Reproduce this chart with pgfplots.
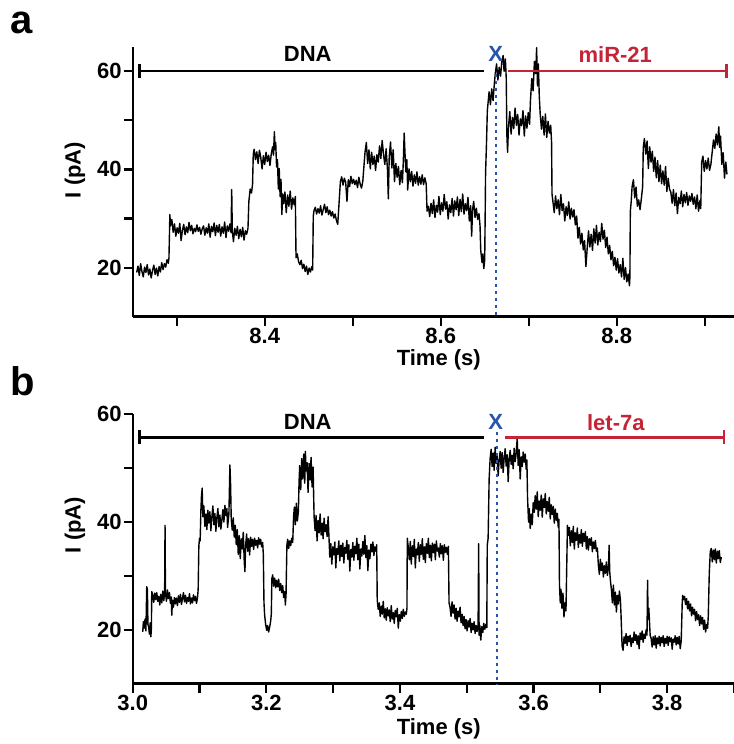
\documentclass[border=0pt]{standalone}
\usepackage{fontspec}
\setmainfont{Liberation Sans}
\usepackage{pgfplots}
\pgfplotsset{compat=1.18}
\usetikzlibrary{arrows.meta}
\definecolor{annred}{RGB}{196,36,54}
\definecolor{annblue}{RGB}{40,84,176}
\newcommand{\bigf}{\fontsize{22bp}{25bp}\selectfont\bfseries}
\pgfplotsset{
  panel/.style={
    scale only axis, width=601.3bp,
    axis x line*=bottom, axis y line*=left,
    axis line style={line width=2.4bp,-},
    every outer x axis line/.append style={-},
    every outer y axis line/.append style={-},
    tick style={line width=2.2bp,black},
    tick align=outside,
    major tick length=9bp,
    tick label style={font=\bigf, inner sep=2bp},
    label style={font=\bigf},
    ytick={20,30,40,50,60},
    yticklabels={\textbf{20},,\textbf{40},,\textbf{60}},
    ymin=10,
    clip=false,
    xlabel={Time (s)}, ylabel={I (pA)},
    ylabel style={anchor=center},
    xlabel style={anchor=center},
  },
  trace/.style={black, line width=1.4bp, line join=round, mark=none},
}
\begin{document}
\begin{tikzpicture}
\useasboundingbox (0,0) rectangle (734bp,744bp);
\node[font=\fontsize{40bp}{44bp}\selectfont\bfseries, anchor=base west, inner sep=0] at (10bp,710.7bp) {a};
\node[font=\fontsize{40bp}{44bp}\selectfont\bfseries, anchor=base west, inner sep=0] at (10bp,348.7bp) {b};
% ---------------- panel a ----------------
\begin{axis}[panel, at={(132.7bp,427.3bp)}, anchor=south west, height=270bp,
  xmin=8.25, xmax=8.9333, ymax=65,
  xtick={8.3,8.4,8.5,8.6,8.7,8.8,8.9},
  xticklabels={,\textbf{8.4},,\textbf{8.6},,\textbf{8.8},},
  xlabel style={at={(axis description cs:0.509,-0.160)}},
  ylabel style={at={(axis description cs:-0.096,0.543)}},
]
\addplot[trace] coordinates {
(8.2545,19.0)(8.2560,20.3)(8.2575,18.4)(8.2590,20.8)(8.2605,19.2)(8.2620,18.1)(8.2635,20.1)(8.2650,19.0)
(8.2665,20.6)(8.2680,18.5)(8.2695,19.7)(8.2710,17.9)(8.2725,19.4)(8.2740,20.5)(8.2755,18.6)(8.2770,19.9)
(8.2785,18.3)(8.2800,20.2)(8.2815,19.1)(8.2830,21.0)(8.2845,19.6)(8.2860,20.8)(8.2875,20.1)(8.2890,21.6)
(8.2905,20.9)(8.2912,22.0)(8.2918,27.0)(8.2922,30.8)
(8.2930,28.5)(8.2945,29.8)(8.2960,27.2)(8.2975,28.9)(8.2990,26.4)(8.3005,28.1)(8.3020,27.0)(8.3035,29.0)
(8.3050,25.5)(8.3065,27.6)(8.3080,28.8)(8.3095,26.7)(8.3110,28.3)(8.3125,27.1)(8.3140,29.2)(8.3155,27.5)
(8.3170,28.6)(8.3185,26.9)(8.3200,28.0)(8.3215,27.3)(8.3230,28.7)(8.3245,27.4)(8.3260,28.2)(8.3275,26.8)
(8.3290,27.9)(8.3305,28.5)(8.3320,26.6)(8.3335,28.1)(8.3350,27.0)(8.3365,28.9)(8.3380,26.2)(8.3395,28.4)
(8.3410,27.3)(8.3425,29.1)(8.3440,26.5)(8.3455,28.6)(8.3470,27.2)(8.3485,28.8)(8.3500,26.4)(8.3515,28.3)
(8.3530,27.0)(8.3545,29.3)(8.3560,26.1)(8.3575,28.5)(8.3590,27.4)(8.3605,28.9)(8.3618,27.1)(8.3625,35.9)
(8.3632,27.5)(8.3645,25.3)(8.3660,28.0)(8.3675,26.6)(8.3690,28.4)(8.3705,25.9)(8.3720,27.8)(8.3735,26.3)
(8.3750,28.2)(8.3765,25.6)(8.3780,27.5)(8.3795,26.8)(8.3810,28.0)
(8.3820,33.5)(8.3835,36.0)(8.3850,35.2)(8.3862,37.0)(8.3870,43.0)
(8.3880,44.1)(8.3895,42.0)(8.3910,43.6)(8.3925,41.2)(8.3940,43.9)(8.3955,42.5)(8.3970,40.1)(8.3985,42.8)
(8.4000,41.0)(8.4015,43.5)(8.4030,41.6)(8.4045,42.9)(8.4060,40.8)(8.4075,43.2)(8.4090,44.6)(8.4100,42.9)
(8.4110,47.7)(8.4118,44.0)(8.4125,45.5)(8.4135,40.5)(8.4145,42.0)(8.4155,36.0)(8.4165,40.2)(8.4175,34.5)
(8.4185,38.0)(8.4195,30.8)(8.4205,35.0)
(8.4215,33.0)(8.4230,35.4)(8.4245,31.2)(8.4260,34.8)(8.4275,32.5)(8.4290,35.6)(8.4305,31.9)(8.4320,34.2)
(8.4335,32.8)(8.4348,34.5)(8.4356,22.0)(8.4370,22.8)
(8.4385,21.2)(8.4400,20.6)(8.4415,21.5)(8.4430,19.8)(8.4445,20.7)(8.4460,19.2)(8.4475,20.3)(8.4490,18.6)
(8.4505,19.9)(8.4520,19.1)(8.4535,20.2)(8.4545,19.5)(8.4552,30.5)(8.4560,31.6)
(8.4575,32.3)(8.4590,30.9)(8.4605,32.0)(8.4620,31.1)(8.4635,32.6)(8.4650,30.7)(8.4665,31.8)(8.4680,32.9)
(8.4695,31.2)(8.4710,32.4)(8.4725,30.8)(8.4740,31.7)(8.4755,30.5)(8.4770,31.4)(8.4785,30.1)(8.4800,30.9)
(8.4815,29.6)(8.4830,28.8)(8.4860,37.5)
(8.4875,38.5)(8.4890,36.8)(8.4905,38.2)(8.4920,37.4)(8.4935,33.5)(8.4950,37.9)(8.4965,36.5)(8.4980,38.6)
(8.4995,37.1)(8.5010,38.0)(8.5025,36.9)(8.5040,37.8)(8.5055,36.3)(8.5070,38.4)(8.5085,37.0)(8.5100,36.2)
(8.5115,37.6)(8.5125,40.0)(8.5140,43.5)
(8.5155,45.5)(8.5170,41.2)(8.5185,44.0)(8.5200,40.1)(8.5215,43.5)(8.5230,41.0)(8.5245,42.7)(8.5260,39.8)
(8.5275,43.0)(8.5290,41.5)(8.5305,44.8)(8.5320,42.2)(8.5335,45.9)(8.5350,43.1)(8.5365,41.0)(8.5380,44.2)
(8.5395,40.0)(8.5405,34.0)(8.5415,42.5)(8.5430,45.6)(8.5445,40.3)(8.5460,44.0)(8.5475,37.5)(8.5490,41.2)
(8.5505,38.4)(8.5520,40.6)(8.5535,36.9)(8.5550,39.8)(8.5565,37.3)(8.5575,41.5)(8.5585,47.4)(8.5595,43.0)
(8.5605,39.5)(8.5615,42.0)(8.5625,35.8)(8.5640,40.1)(8.5655,37.5)(8.5670,39.6)(8.5685,36.6)(8.5700,38.9)
(8.5715,37.2)(8.5730,39.5)(8.5745,36.8)(8.5760,38.5)(8.5775,37.0)(8.5790,38.9)(8.5805,36.9)(8.5820,38.3)
(8.5835,37.1)(8.5845,31.5)
(8.5860,32.5)(8.5875,30.4)(8.5890,33.1)(8.5905,31.0)(8.5920,33.8)(8.5935,30.2)(8.5950,32.7)(8.5965,31.3)
(8.5980,34.5)(8.5995,30.8)(8.6010,33.2)(8.6025,31.5)(8.6040,34.9)(8.6055,31.9)(8.6070,33.4)(8.6085,29.9)
(8.6100,32.8)(8.6115,31.2)(8.6130,34.1)(8.6145,30.5)(8.6160,33.6)(8.6175,31.8)(8.6190,34.4)(8.6205,30.6)
(8.6220,33.9)(8.6235,31.4)(8.6250,35.0)(8.6265,30.9)(8.6280,33.0)(8.6295,31.6)(8.6310,34.3)(8.6325,29.5)
(8.6340,32.6)(8.6352,26.4)(8.6362,31.8)(8.6375,33.5)(8.6390,30.2)(8.6405,32.1)(8.6420,29.8)(8.6435,31.0)
(8.6447,28.5)(8.6455,23.5)(8.6470,21.0)(8.6480,22.8)(8.6490,19.8)(8.6500,21.5)
(8.6505,30.0)(8.6510,39.3)(8.6520,45.0)(8.6530,52.0)(8.6538,53.5)
(8.6550,55.8)(8.6565,53.2)(8.6580,56.4)(8.6595,54.0)(8.6610,57.5)(8.6620,59.5)(8.6635,61.5)(8.6650,58.2)
(8.6665,60.8)(8.6680,59.0)(8.6695,62.0)(8.6710,63.2)(8.6720,60.0)(8.6735,62.5)(8.6745,58.5)
(8.6752,47.0)(8.6760,43.5)(8.6770,48.5)
(8.6785,51.8)(8.6800,47.2)(8.6815,50.6)(8.6830,48.3)(8.6845,52.5)(8.6860,49.0)(8.6875,51.2)(8.6890,47.0)
(8.6905,50.3)(8.6920,48.9)(8.6935,52.0)(8.6950,46.8)(8.6965,50.9)(8.6980,48.4)(8.6995,51.6)(8.7010,49.2)
(8.7020,54.0)(8.7035,58.5)(8.7050,56.0)(8.7065,62.0)(8.7080,59.5)(8.7090,64.8)(8.7100,57.0)(8.7110,61.5)
(8.7120,55.0)
(8.7130,51.5)(8.7145,48.2)(8.7160,50.8)(8.7175,47.0)(8.7190,51.3)(8.7205,46.5)(8.7220,49.8)(8.7235,47.4)
(8.7250,49.0)(8.7260,45.5)(8.7265,35.0)(8.7275,33.5)
(8.7290,31.2)(8.7305,34.6)(8.7320,32.0)(8.7335,33.8)(8.7350,30.8)(8.7365,34.9)(8.7380,31.6)(8.7395,33.0)
(8.7410,29.5)(8.7425,32.4)(8.7440,30.6)(8.7455,33.4)(8.7470,29.9)(8.7485,32.1)(8.7500,30.3)(8.7515,31.8)
(8.7530,28.7)(8.7545,30.5)(8.7560,26.0)(8.7575,28.2)(8.7590,24.8)(8.7605,27.0)(8.7620,23.6)(8.7635,25.5)
(8.7650,20.2)(8.7665,24.0)
(8.7680,27.5)(8.7695,24.2)(8.7710,26.8)(8.7725,23.5)(8.7740,27.9)(8.7755,25.0)(8.7770,28.6)(8.7785,24.6)
(8.7800,27.2)(8.7815,25.3)(8.7830,29.0)(8.7845,25.8)(8.7860,27.6)(8.7875,24.1)(8.7890,26.2)
(8.7905,22.8)(8.7920,24.5)(8.7935,21.6)(8.7950,23.3)(8.7965,20.4)(8.7980,22.1)(8.7995,19.5)(8.8010,21.8)
(8.8025,18.9)(8.8040,20.6)(8.8055,18.1)(8.8070,21.9)(8.8085,17.6)(8.8100,20.0)(8.8115,17.1)(8.8130,18.7)
(8.8145,16.3)(8.8150,18.0)(8.8155,31.5)(8.8165,33.5)
(8.8175,36.5)(8.8190,37.9)(8.8205,34.2)(8.8220,36.4)(8.8235,32.5)(8.8250,33.8)(8.8265,31.8)(8.8280,34.0)
(8.8295,36.5)(8.8302,44.5)
(8.8315,46.3)(8.8330,43.1)(8.8345,45.8)(8.8360,40.2)(8.8375,44.6)(8.8390,41.5)(8.8405,43.7)(8.8420,39.6)
(8.8435,42.5)(8.8450,38.3)(8.8465,41.8)(8.8480,37.5)(8.8495,40.9)(8.8510,37.1)(8.8525,39.7)(8.8540,36.8)
(8.8555,40.6)(8.8570,35.5)(8.8585,38.2)(8.8600,36.0)(8.8615,35.4)(8.8630,33.1)(8.8645,35.9)(8.8660,32.6)
(8.8675,35.2)(8.8690,31.0)(8.8705,34.3)(8.8720,33.0)(8.8735,35.6)(8.8750,32.4)(8.8765,34.9)(8.8780,33.2)
(8.8795,35.3)(8.8810,32.7)(8.8825,34.6)(8.8840,33.5)(8.8855,35.1)(8.8870,32.9)(8.8885,34.4)(8.8900,32.0)
(8.8915,34.8)(8.8930,31.5)(8.8945,33.6)(8.8955,32.0)(8.8966,41.5)
(8.8980,42.7)(8.8995,39.6)(8.9010,41.8)(8.9025,40.1)(8.9040,42.3)(8.9055,39.8)(8.9070,41.0)(8.9085,43.5)
(8.9100,46.0)(8.9115,44.3)(8.9130,47.2)(8.9145,45.0)(8.9160,48.7)(8.9170,44.5)(8.9180,46.8)(8.9195,41.0)
(8.9210,43.4)(8.9225,38.2)(8.9240,41.5)(8.9253,39.0)
};
\draw[black, line width=2.3bp, {Bar[width=14bp]}-] (axis cs:8.2564,60.1) -- (axis cs:8.6492,60.1);
\draw[annred, line width=2.3bp, -{Bar[width=14bp]}] (axis cs:8.6768,60.1) -- (axis cs:8.9261,60.1);
\draw[annblue, line width=2.2bp, dash pattern=on 3.5bp off 3.5bp] (axis cs:8.6625,59.5) -- (axis cs:8.6625,10);
\node[font=\bigf, text=black] at (axis cs:8.4489,63.5) {DNA};
\node[font=\bigf, text=annred] at (axis cs:8.7984,63.4) {miR-21};
\node[font=\bigf, text=annblue] at (axis cs:8.6625,63.6) {X};
\end{axis}
% ---------------- panel b ----------------
\begin{axis}[panel, at={(132.7bp,60.3bp)}, anchor=south west, height=269.4bp,
  xmin=3.0, xmax=3.9, ymax=60,
  xtick={3.0,3.1,3.2,3.3,3.4,3.5,3.6,3.7,3.8,3.9},
  xticklabels={\textbf{3.0},,\textbf{3.2},,\textbf{3.4},,\textbf{3.6},,\textbf{3.8},},
  xlabel style={at={(axis description cs:0.509,-0.167)}},
  ylabel style={at={(axis description cs:-0.096,0.589)}},
]
\addplot[trace] coordinates {
(3.0150,19.6)(3.0160,21.5)(3.0172,20.3)(3.0185,22.0)(3.0198,19.8)(3.0210,28.0)(3.0220,27.5)(3.0228,21.0)
(3.0240,20.5)(3.0250,19.2)(3.0262,21.3)(3.0272,18.7)(3.0280,20.4)(3.0285,27.1)
(3.0300,26.5)(3.0315,25.1)(3.0330,26.8)(3.0345,25.6)(3.0360,26.9)(3.0375,25.3)(3.0390,26.2)(3.0405,24.6)
(3.0420,26.6)(3.0435,25.0)(3.0450,27.2)(3.0465,25.4)(3.0478,26.8)(3.0484,39.4)(3.0490,27.0)(3.0505,25.3)
(3.0520,27.4)(3.0535,25.8)(3.0550,26.9)(3.0565,24.9)(3.0578,26.1)(3.0585,22.7)(3.0595,25.5)(3.0610,24.2)
(3.0625,26.0)(3.0640,24.8)(3.0655,25.9)(3.0670,24.5)(3.0685,26.3)(3.0700,25.1)(3.0715,26.6)(3.0730,24.7)
(3.0745,25.8)(3.0760,26.9)(3.0775,25.2)(3.0790,26.4)(3.0805,24.9)(3.0820,26.0)(3.0835,25.3)(3.0850,26.7)
(3.0865,24.8)(3.0880,25.9)(3.0895,25.0)(3.0910,26.5)(3.0925,25.4)(3.0940,26.2)(3.0955,24.9)(3.0970,26.0)
(3.0980,27.5)(3.0990,35.5)(3.1000,37.0)(3.1010,36.5)(3.1020,42.0)(3.1030,45.0)(3.1040,46.3)(3.1050,41.0)
(3.1065,43.0)(3.1080,39.2)(3.1095,41.5)(3.1110,38.6)(3.1125,42.2)(3.1140,39.8)(3.1155,41.9)(3.1170,38.4)
(3.1185,40.9)(3.1200,43.0)(3.1215,39.5)(3.1230,41.6)(3.1245,38.3)(3.1260,40.8)(3.1275,42.5)(3.1290,39.1)
(3.1305,41.3)(3.1320,38.7)(3.1335,40.4)(3.1350,42.3)(3.1365,40.0)(3.1380,43.1)(3.1395,41.2)(3.1410,42.5)
(3.1420,39.0)(3.1440,41.5)(3.1455,50.6)(3.1465,47.0)(3.1475,40.5)(3.1490,38.5)(3.1505,40.8)(3.1520,37.2)
(3.1535,39.4)
(3.1550,35.8)(3.1565,38.6)(3.1580,34.0)(3.1595,37.5)(3.1610,33.2)(3.1625,36.9)(3.1640,35.0)(3.1655,38.1)
(3.1670,32.5)(3.1680,30.8)(3.1690,35.6)(3.1705,37.8)(3.1720,34.6)(3.1735,36.9)(3.1750,33.9)(3.1765,37.2)
(3.1780,35.5)(3.1795,36.8)(3.1810,34.9)(3.1825,37.0)(3.1840,35.7)(3.1855,36.6)(3.1870,35.2)(3.1885,37.1)
(3.1900,35.9)(3.1915,36.8)(3.1930,35.4)(3.1945,36.2)(3.1955,34.0)(3.1965,25.0)(3.1975,22.7)
(3.1990,21.0)(3.2005,19.9)(3.2020,20.8)(3.2035,19.6)(3.2050,20.5)(3.2065,21.6)(3.2075,23.0)(3.2083,29.5)
(3.2095,30.2)(3.2110,28.1)(3.2125,29.6)(3.2140,27.8)(3.2155,29.2)(3.2170,28.0)(3.2185,29.4)(3.2200,27.3)
(3.2215,28.6)(3.2230,26.9)(3.2245,28.2)(3.2260,26.0)(3.2275,27.1)(3.2285,24.6)(3.2295,26.5)(3.2308,35.7)
(3.2320,36.8)(3.2335,35.1)(3.2350,36.5)(3.2365,35.6)(3.2380,37.0)(3.2395,36.2)(3.2408,41.0)(3.2420,42.8)
(3.2435,39.5)(3.2450,43.5)(3.2465,40.2)(3.2480,42.0)(3.2490,47.5)(3.2500,50.5)(3.2515,46.0)(3.2530,51.8)
(3.2545,48.0)(3.2560,52.6)(3.2575,47.2)(3.2585,53.1)(3.2595,49.5)(3.2610,51.0)(3.2625,45.5)(3.2640,50.9)
(3.2655,47.8)(3.2670,52.0)(3.2685,46.5)(3.2700,50.2)(3.2710,44.0)(3.2715,41.0)
(3.2730,38.4)(3.2745,41.2)(3.2760,36.5)(3.2775,40.3)(3.2790,38.0)(3.2805,41.5)(3.2820,37.6)(3.2835,39.8)
(3.2850,36.9)(3.2865,40.7)(3.2880,38.2)(3.2895,39.5)(3.2910,37.3)(3.2925,41.0)(3.2935,38.0)
(3.2950,33.5)(3.2965,36.0)(3.2980,32.2)(3.2995,35.4)(3.3010,33.9)(3.3025,36.3)(3.3040,31.5)(3.3055,35.1)
(3.3070,34.0)(3.3085,36.5)(3.3100,32.8)(3.3115,35.7)(3.3130,33.6)(3.3145,36.1)(3.3160,32.4)(3.3175,35.3)
(3.3190,34.2)(3.3205,36.6)(3.3220,33.1)(3.3235,35.8)(3.3250,30.9)(3.3265,34.9)(3.3280,33.5)(3.3295,36.2)
(3.3310,32.9)(3.3325,35.5)(3.3340,34.1)(3.3355,37.0)(3.3370,33.0)(3.3385,35.9)(3.3400,31.3)(3.3415,35.0)
(3.3430,33.7)(3.3445,36.4)(3.3460,34.0)(3.3475,37.5)(3.3490,33.4)(3.3505,35.6)(3.3520,31.0)(3.3535,34.8)
(3.3550,33.2)(3.3565,35.9)(3.3580,34.5)(3.3595,36.3)(3.3610,33.8)(3.3625,35.4)(3.3640,34.6)(3.3652,35.8)
(3.3660,25.5)
(3.3675,23.8)(3.3690,25.0)(3.3705,22.5)(3.3720,24.4)(3.3735,22.9)(3.3750,25.3)(3.3765,22.2)(3.3780,23.9)
(3.3795,21.8)(3.3810,24.1)(3.3825,22.6)(3.3840,23.7)(3.3855,21.5)(3.3870,24.5)(3.3885,22.0)(3.3900,23.2)
(3.3915,21.2)(3.3930,23.6)(3.3945,22.4)(3.3960,24.0)(3.3975,20.3)(3.3990,22.8)(3.4005,21.6)(3.4020,23.4)
(3.4035,22.1)(3.4050,23.8)(3.4065,22.5)(3.4080,23.3)(3.4095,22.9)(3.4105,24.0)(3.4110,37.0)
(3.4125,35.3)(3.4140,33.0)(3.4155,36.4)(3.4170,32.2)(3.4185,35.6)(3.4200,33.6)(3.4215,36.8)(3.4230,31.5)
(3.4245,35.0)(3.4260,33.9)(3.4275,36.2)(3.4290,32.7)(3.4305,35.8)(3.4320,34.0)(3.4335,36.9)(3.4350,33.1)
(3.4365,35.4)(3.4380,32.5)(3.4395,36.0)(3.4410,34.2)(3.4425,37.0)(3.4440,33.4)(3.4455,35.7)(3.4470,32.8)
(3.4485,36.1)(3.4500,34.3)(3.4515,35.9)(3.4530,33.0)(3.4545,36.5)(3.4560,34.6)(3.4575,35.2)(3.4590,33.5)
(3.4605,36.0)(3.4620,34.1)(3.4635,35.6)(3.4650,32.9)(3.4665,35.8)(3.4680,34.4)(3.4695,35.3)(3.4710,34.0)
(3.4725,35.5)(3.4735,25.0)
(3.4750,24.2)(3.4765,22.5)(3.4780,25.2)(3.4795,23.1)(3.4810,24.6)(3.4825,22.0)(3.4840,24.0)(3.4855,21.6)
(3.4870,23.5)(3.4885,22.4)(3.4900,24.2)(3.4915,21.3)(3.4930,22.9)(3.4945,20.8)(3.4960,22.5)(3.4975,20.2)
(3.4990,21.9)(3.5005,19.8)(3.5020,21.7)(3.5035,20.5)(3.5050,22.1)(3.5065,19.5)(3.5080,21.2)(3.5095,20.0)
(3.5110,21.5)(3.5125,19.3)(3.5140,20.8)(3.5155,19.7)(3.5170,21.0)(3.5178,36.0)(3.5185,19.0)(3.5195,20.8)
(3.5210,18.1)(3.5225,20.6)(3.5240,19.5)(3.5255,21.2)(3.5270,20.1)(3.5285,21.0)(3.5300,20.4)
(3.5307,35.7)(3.5320,37.0)(3.5335,48.0)(3.5350,51.8)
(3.5365,53.5)(3.5380,50.3)(3.5395,52.8)(3.5410,49.6)(3.5425,53.9)(3.5440,50.9)(3.5455,52.2)(3.5470,48.6)
(3.5485,51.5)(3.5500,53.1)(3.5515,50.0)(3.5530,52.9)(3.5545,49.2)(3.5560,51.9)(3.5575,53.6)(3.5590,50.4)
(3.5605,52.5)(3.5620,47.5)(3.5635,51.8)(3.5650,53.3)(3.5665,50.7)(3.5680,52.4)(3.5695,49.9)(3.5710,53.7)
(3.5725,51.2)(3.5740,52.8)(3.5755,55.5)(3.5770,50.5)(3.5785,53.4)(3.5800,48.0)(3.5815,52.1)(3.5830,50.3)
(3.5845,53.0)(3.5860,51.1)(3.5875,52.6)(3.5890,49.8)(3.5900,51.5)
(3.5910,44.5)(3.5925,40.0)(3.5935,42.5)(3.5950,38.8)(3.5965,41.5)(3.5980,39.5)
(3.5995,43.6)(3.6010,41.8)(3.6025,44.9)(3.6040,42.4)(3.6055,45.6)(3.6070,41.0)(3.6085,43.9)(3.6100,42.2)
(3.6115,45.0)(3.6130,40.9)(3.6145,44.3)(3.6160,42.7)(3.6175,45.3)(3.6190,41.5)(3.6205,43.8)(3.6220,42.0)
(3.6235,44.6)(3.6250,40.6)(3.6265,43.2)(3.6280,41.4)(3.6295,42.9)(3.6310,39.8)(3.6325,42.4)(3.6340,40.3)
(3.6355,41.6)(3.6370,39.0)(3.6380,40.5)
(3.6388,28.3)(3.6400,25.0)(3.6410,27.5)(3.6425,24.0)(3.6440,26.8)(3.6455,22.4)(3.6470,25.0)(3.6485,23.5)
(3.6507,39.4)
(3.6520,37.5)(3.6535,39.0)(3.6550,35.6)(3.6565,38.4)(3.6580,36.2)(3.6595,39.2)(3.6610,35.0)(3.6625,38.0)
(3.6640,36.6)(3.6655,38.9)(3.6670,35.3)(3.6685,37.7)(3.6700,36.1)(3.6715,38.6)(3.6730,35.5)(3.6745,37.9)
(3.6760,36.4)(3.6775,38.2)(3.6790,35.0)(3.6805,37.3)(3.6820,34.8)(3.6835,36.9)(3.6850,35.7)(3.6865,37.1)
(3.6880,34.5)(3.6895,36.3)(3.6910,35.1)(3.6925,36.6)(3.6940,34.6)(3.6955,35.2)
(3.6970,32.0)(3.6985,30.3)(3.7000,33.1)(3.7015,31.0)(3.7030,32.4)(3.7045,29.8)(3.7060,31.9)(3.7075,30.5)
(3.7090,32.6)(3.7105,30.1)(3.7120,31.5)(3.7131,35.7)(3.7140,30.8)(3.7150,29.2)
(3.7165,27.5)(3.7180,25.0)(3.7195,28.3)(3.7210,24.6)(3.7225,27.0)(3.7240,23.3)(3.7255,26.4)(3.7270,24.8)
(3.7285,27.2)(3.7300,25.5)(3.7310,22.5)(3.7325,17.0)
(3.7340,16.2)(3.7355,18.7)(3.7370,17.5)(3.7385,19.3)(3.7400,17.1)(3.7415,18.8)(3.7430,17.8)(3.7445,19.0)
(3.7460,16.9)(3.7475,18.5)(3.7490,17.6)(3.7505,19.6)(3.7520,18.0)(3.7535,19.1)(3.7550,17.3)(3.7565,18.9)
(3.7580,16.5)(3.7595,19.4)(3.7610,18.2)(3.7625,19.8)(3.7640,17.7)(3.7655,19.2)(3.7670,18.4)(3.7685,20.0)
(3.7698,19.0)(3.7706,29.2)(3.7715,22.0)(3.7725,24.0)(3.7735,21.5)(3.7745,19.0)
(3.7760,18.4)(3.7775,16.8)(3.7790,18.7)(3.7805,17.2)(3.7820,18.9)(3.7835,16.6)(3.7850,18.5)(3.7865,17.4)
(3.7880,18.8)(3.7895,17.0)(3.7910,18.6)(3.7925,17.6)(3.7940,18.9)(3.7955,16.9)(3.7970,18.4)(3.7985,17.5)
(3.8000,18.8)(3.8015,17.1)(3.8030,18.7)(3.8045,17.8)(3.8060,18.5)(3.8075,16.4)(3.8090,18.3)(3.8105,17.7)
(3.8120,18.9)(3.8135,17.2)(3.8150,18.6)(3.8165,17.4)(3.8180,18.8)(3.8195,16.5)(3.8210,18.0)
(3.8225,25.0)(3.8232,26.4)
(3.8245,25.6)(3.8260,26.2)(3.8275,24.7)(3.8290,25.8)(3.8305,23.9)(3.8320,25.3)(3.8335,23.5)(3.8350,24.8)
(3.8365,22.6)(3.8380,24.2)(3.8395,22.9)(3.8410,23.8)(3.8425,21.7)(3.8440,23.4)(3.8455,21.9)(3.8470,22.8)
(3.8485,20.8)(3.8500,22.6)(3.8515,21.1)(3.8530,22.3)(3.8545,20.1)(3.8560,21.8)(3.8575,19.6)(3.8590,21.0)
(3.8605,20.3)(3.8615,22.5)(3.8630,30.5)(3.8645,34.5)
(3.8660,35.1)(3.8675,32.6)(3.8690,34.8)(3.8705,33.0)(3.8720,35.0)(3.8735,32.4)(3.8750,34.6)(3.8765,33.2)
(3.8780,34.7)(3.8795,32.5)(3.8810,33.5)
};
\draw[black, line width=2.3bp, {Bar[width=14bp]}-] (axis cs:3.0084,55.7) -- (axis cs:3.5256,55.7);
\draw[annred, line width=2.3bp, -{Bar[width=14bp]}] (axis cs:3.5567,55.7) -- (axis cs:3.8865,55.7);
\draw[annblue, line width=2.2bp, dash pattern=on 3.5bp off 3.5bp] (axis cs:3.5447,56.8) -- (axis cs:3.5447,10);
\node[font=\bigf, text=black] at (axis cs:3.2621,58.6) {DNA};
\node[font=\bigf, text=annred] at (axis cs:3.7231,58.5) {let-7a};
\node[font=\bigf, text=annblue] at (axis cs:3.5432,58.6) {X};
\end{axis}
\end{tikzpicture}
\end{document}
